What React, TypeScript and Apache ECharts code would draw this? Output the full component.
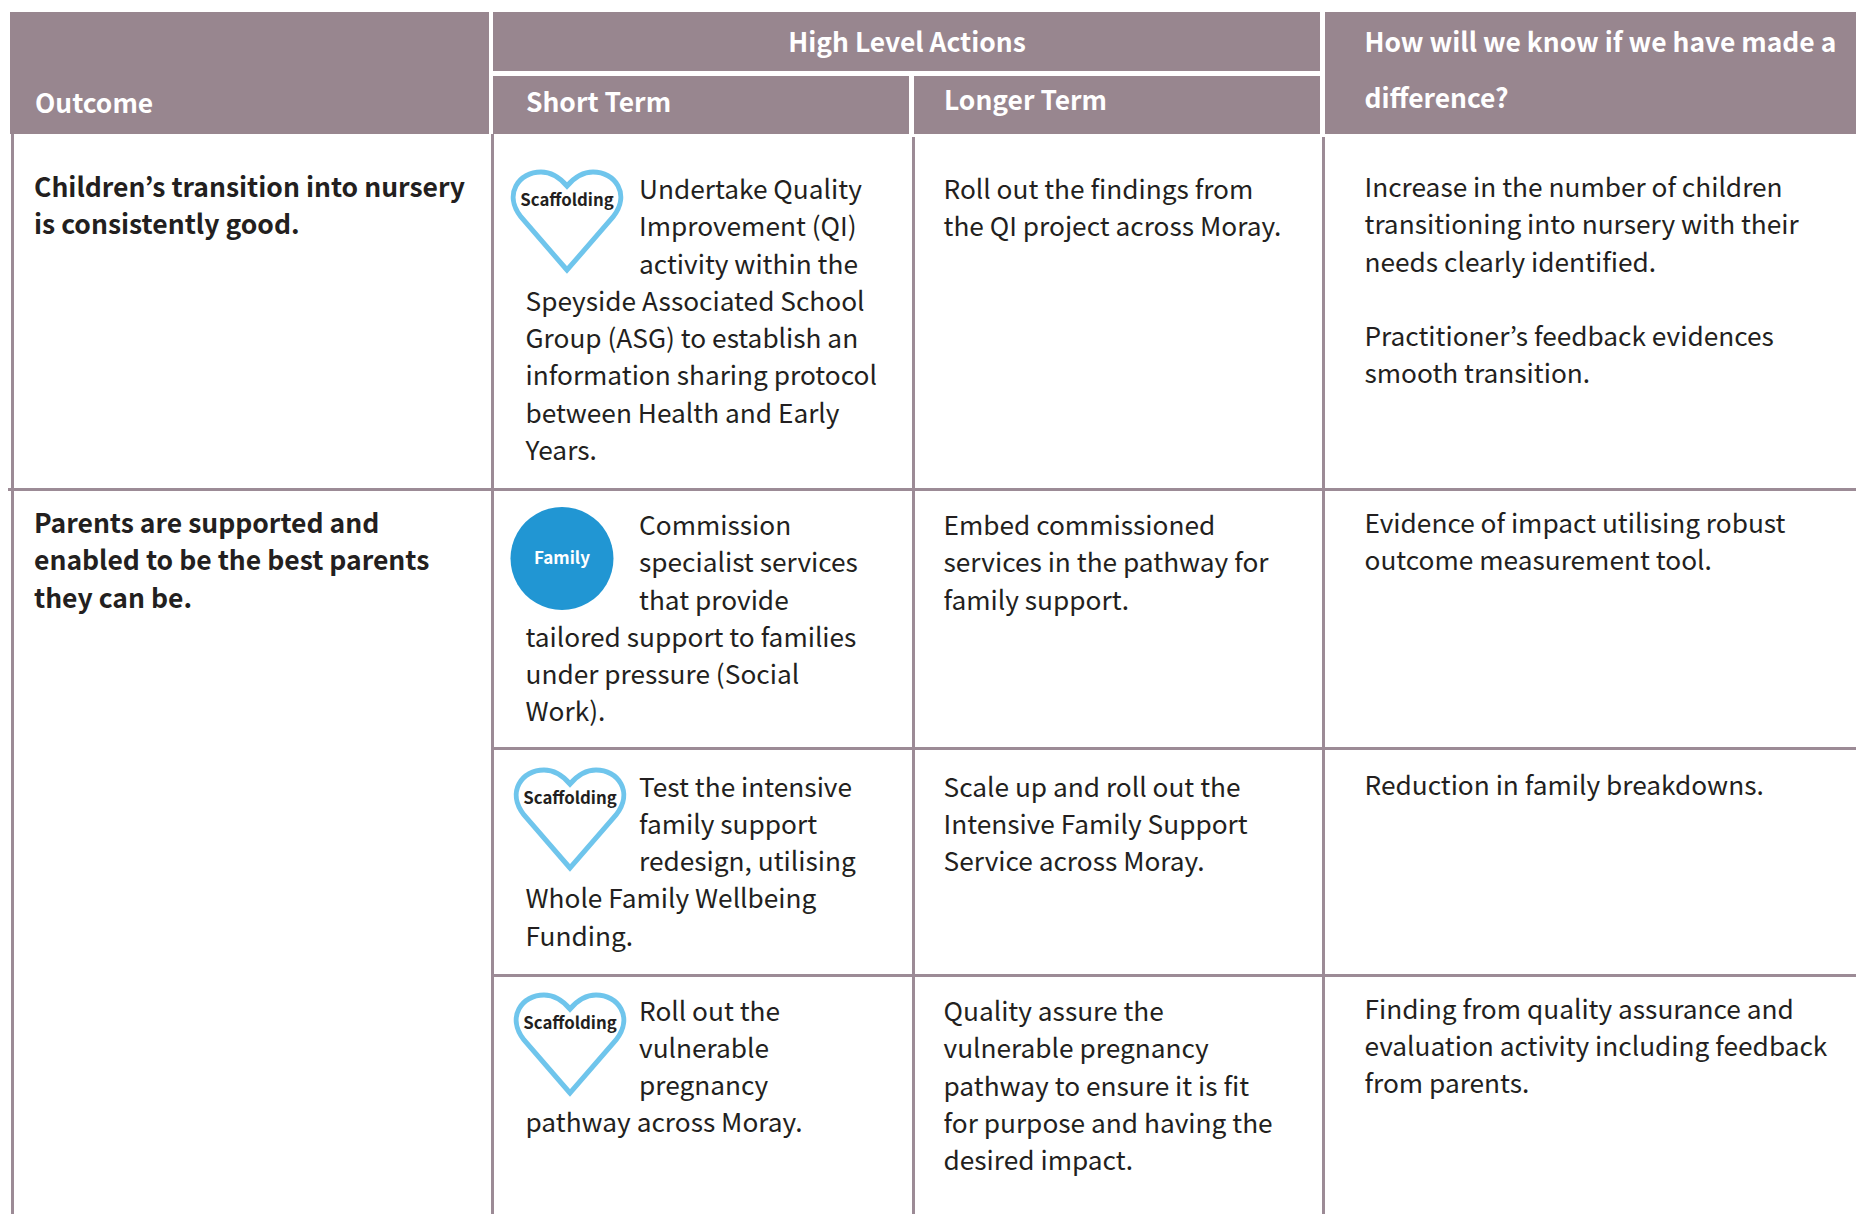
import React, { useEffect, useRef } from "react";
import * as echarts from "echarts";

const headers = ["Outcome", "High Level Actions", "Short Term", "Longer Term", "How will we know if we have made a", "difference?"];
const outcome1 = ["Children’s transition into nursery", "is consistently good."];
const outcome2 = ["Parents are supported and", "enabled to be the best parents", "they can be."];
const short1 = ["Undertake Quality", "Improvement (QI)", "activity within the", "Speyside Associated School", "Group (ASG) to establish an", "information sharing protocol", "between Health and Early", "Years."];
const short2 = ["Commission", "specialist services", "that provide", "tailored support to families", "under pressure (Social", "Work)."];
const short3 = ["Test the intensive", "family support", "redesign, utilising", "Whole Family Wellbeing", "Funding."];
const short4 = ["Roll out the", "vulnerable", "pregnancy", "pathway across Moray."];
const long1 = ["Roll out the findings from", "the QI project across Moray."];
const long2 = ["Embed commissioned", "services in the pathway for", "family support."];
const long3 = ["Scale up and roll out the", "Intensive Family Support", "Service across Moray."];
const long4 = ["Quality assure the", "vulnerable pregnancy", "pathway to ensure it is fit", "for purpose and having the", "desired impact."];
const diff1a = ["Increase in the number of children", "transitioning into nursery with their", "needs clearly identified."];
const diff1b = ["Practitioner’s feedback evidences", "smooth transition."];
const diff2 = ["Evidence of impact utilising robust", "outcome measurement tool."];
const diff3 = ["Reduction in family breakdowns."];
const diff4 = ["Finding from quality assurance and", "evaluation activity including feedback", "from parents."];

const FONT = '"Noto Sans CJK JP", "Noto Sans", sans-serif';
const HEAD = "#98868f";
const LINE = "#9c8b96";
const INK = "#231f20";
const HEART = "#6fc5ec";
const DISC = "#2196d3";
const PITCH = 37.25;
const SIZE = 26.25;
const BOLD_SIZE = 26.5;

const HEART_PATH = "M56 100 L10 47 C-8 24 8 2 30 2 C42 2 50 9 56 16 C62 9 70 2 82 2 C104 2 120 24 102 47 Z";

const rect = (x: number, y: number, w: number, h: number, fill: string) => ({
  type: "rect", silent: true, shape: { x, y, width: w, height: h }, style: { fill },
});
const label = (x: number, y: number, text: string, o: any = {}) => ({
  type: "text", silent: true, x, y,
  style: { text, fontFamily: FONT, fontSize: o.size ?? SIZE, fontWeight: o.weight ?? 400, fill: o.fill ?? INK, align: o.align ?? "left", verticalAlign: "middle" },
});
const block = (x: number, y: number, lines: string[], o: any = {}) =>
  lines.map((t, i) => label(x, y + i * PITCH, t, o));
const wrapped = (y: number, lines: string[]) =>
  lines.map((t, i) => label(i < 3 ? 639 : 525.5, y + i * PITCH, t));
const heart = (x: number, y: number) => [
  { type: "heartShape", silent: true, x, y, style: { fill: "none", stroke: HEART, lineWidth: 5 } },
  label(x + 56, y + 29, "Scaffolding", { size: 16.8, weight: 700, align: "center" }),
];

export default function App() {
  const ref = useRef<HTMLDivElement>(null);
  useEffect(() => {
    document.body.style.margin = "0";
    echarts.graphic.registerShape("heartShape", echarts.graphic.extendPath(HEART_PATH, {}) as any);
    const chart = echarts.init(ref.current!, null, { renderer: "svg" });
    const bold = { weight: 700, size: BOLD_SIZE };
    const headText = { weight: 700, fill: "#ffffff", size: 26.4 };
    chart.setOption({
      animation: false,
      graphic: {
        elements: [
          rect(10, 12, 479, 122, HEAD),
          rect(493, 12, 827, 59, HEAD),
          rect(493, 76, 416, 58, HEAD),
          rect(914, 76, 406, 58, HEAD),
          rect(1325, 12, 531, 122, HEAD),
          rect(11, 134, 3, 1080, LINE),
          rect(491, 134, 3, 1080, LINE),
          rect(912, 137, 3, 1077, LINE),
          rect(1322, 137, 3, 1077, LINE),
          rect(8, 488, 1848, 3, LINE),
          rect(493, 747, 1363, 3, LINE),
          rect(493, 974, 1363, 3, LINE),
          label(35, 101, headers[0], headText),
          label(907, 40, headers[1], { ...headText, align: "center" }),
          label(526, 100.5, headers[2], headText),
          label(944, 98, headers[3], headText),
          label(1364.5, 40.5, headers[4], headText),
          label(1364.5, 96.5, headers[5], headText),
          ...block(34, 185.5, outcome1, bold),
          ...block(34, 521.5, outcome2, bold),
          ...wrapped(188.2, short1),
          ...wrapped(524, short2),
          ...wrapped(785.5, short3),
          ...wrapped(1009.5, short4),
          ...block(943.5, 187.5, long1),
          ...block(943.5, 524, long2),
          ...block(943.5, 785.5, long3),
          ...block(943.5, 1010, long4),
          ...block(1364.5, 186, diff1a),
          ...block(1364.5, 335, diff1b),
          ...block(1364.5, 521.5, diff2),
          ...block(1364.5, 784, diff3),
          ...block(1364.5, 1007.5, diff4),
          ...heart(511, 170),
          { type: "circle", silent: true, shape: { cx: 562, cy: 558.5, r: 51.5 }, style: { fill: DISC } },
          label(562, 556, "Family", { size: 17, weight: 700, fill: "#ffffff", align: "center" }),
          ...heart(514, 768),
          ...heart(514, 993),
        ],
      },
    });
    return () => chart.dispose();
  }, []);
  return <div ref={ref} style={{ width: 1856, height: 1214, background: "#fff" }} />;
}
